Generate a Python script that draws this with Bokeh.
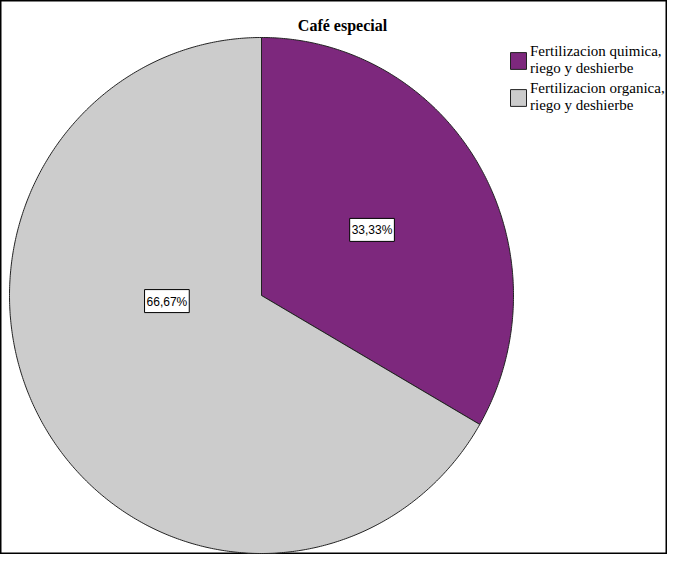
import math
from bokeh.plotting import figure
from bokeh.models import ColumnDataSource, Range1d, Label, Legend, LegendItem
from bokeh.core.properties import value
from bokeh.embed import file_html
from bokeh.resources import INLINE

# ---- data ----
title_text = "Café especial"
categories = ["Fertilizacion quimica,\nriego y deshierbe",
              "Fertilizacion organica,\nriego y deshierbe"]
percentages = [33.33, 66.67]
colors = ["#7D287D", "#CCCCCC"]

# ---- layout constants (pixels) ----
W, H = 667, 554
CX, CY = 261, 295          # pie centre in canvas px (from top-left)
RX, RY = 252, 258          # px per unit
label_r = [0.507, 0.376]
label_angle = [59.9, 266.7]

p = figure(width=W, height=H, output_backend="svg", toolbar_location=None,
           x_axis_type=None, y_axis_type=None, min_border=0,
           x_range=Range1d(-CX / RX, (W - CX) / RX),
           y_range=Range1d(-(H - CY) / RY, CY / RY),
           background_fill_color="white", border_fill_color="white")
p.outline_line_color = "black"
p.outline_line_width = 2
p.grid.visible = False

total = sum(percentages)
xs, ys = [], []
start = 0.0
for v in percentages:
    end = start + v / total * 360.0
    n = max(int((end - start) / 0.5), 2)
    px, py = [0.0], [0.0]
    for i in range(n + 1):
        a = math.radians(start + (end - start) * i / n)
        px.append(math.sin(a))
        py.append(math.cos(a))
    xs.append(px)
    ys.append(py)
    start = end

src = ColumnDataSource(dict(xs=xs, ys=ys, color=colors, cat=categories))
r = p.patches("xs", "ys", source=src, fill_color="color", line_color="#222222",
              line_width=1)

# labels
lx, ly, lt = [], [], []
for v, rr, ang in zip(percentages, label_r, label_angle):
    a = math.radians(ang)
    lx.append(rr * math.sin(a))
    ly.append(rr * math.cos(a))
    lt.append(f"{v:.2f}".replace(".", ",") + "%")
lsrc = ColumnDataSource(dict(x=lx, y=ly, t=lt))
p.text("x", "y", text="t", source=lsrc, text_align="center", text_baseline="middle",
       text_font=value("Liberation Sans"), text_font_size="12px", text_color="black",
       background_fill_color="white", border_line_color="black", border_line_width=1,
       padding=dict(left=2, right=2, top=5, bottom=4))

# title
p.add_layout(Label(x=342, y=H - 25, x_units="screen", y_units="screen", text=title_text,
                   text_align="center", text_baseline="middle",
                   text_font="Liberation Serif", text_font_style="bold",
                   text_font_size="16px", text_color="black"))

# legend
items = [LegendItem(label=c, renderers=[r], index=i) for i, c in enumerate(categories)]
leg = Legend(items=items, location=(508, 440), orientation="vertical",
             label_text_font="Liberation Serif", label_text_font_size="15px",
             label_text_color="black", label_text_line_height=1.2,
             glyph_width=20, glyph_height=21,
             label_standoff=2, spacing=3, padding=0, margin=0,
             border_line_alpha=0, background_fill_alpha=0)
p.add_layout(leg)

open("out.html", "w").write(file_html(p, INLINE))
